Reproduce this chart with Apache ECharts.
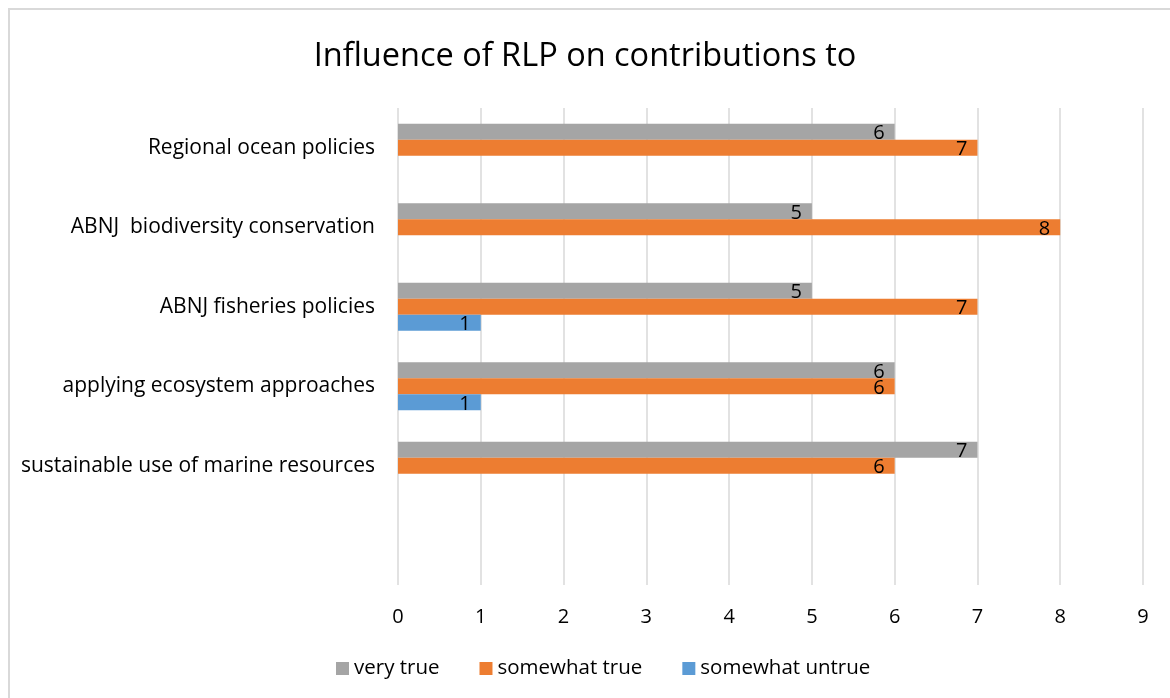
<!DOCTYPE html>
<html>
<head>
<meta charset="utf-8">
<script src="https://cdn.jsdelivr.net/npm/echarts@6/dist/echarts.min.js"></script>
<style>
  html, body { margin: 0; padding: 0; background: #fff; }
  #chart { width: 1170px; height: 698px; }
</style>
</head>
<body>
<div id="chart"></div>
<script>
  // categories bottom -> top, first one is an empty slot like the original
  let categories = ['', 'sustainable use of marine resources', 'applying ecosystem approaches',
                    'ABNJ fisheries policies', 'ABNJ  biodiversity conservation', 'Regional ocean policies'];
  let veryTrue       = [null, 7, 6, 5, 5, 6];
  let somewhatTrue   = [null, 6, 6, 7, 8, 7];
  let somewhatUntrue = [null, null, 1, 1, null, null];
  let xTicks = [0, 9, 1];  // min, max, interval

  let font = '"Open Sans", Lato, sans-serif';
  let chart = echarts.init(document.getElementById('chart'));

  let label = {
    show: true,
    position: 'insideRight',
    distance: 10,
    color: '#000',
    fontSize: 20,
    fontFamily: font,
    offset: [0, 2]
  };

  function barSeries(name, data, color) {
    return {
      name: name,
      type: 'bar',
      data: data,
      barWidth: 16,
      barGap: '0%',
      itemStyle: { color: color },
      label: label
    };
  }

  chart.setOption({
    animation: false,
    textStyle: { fontFamily: font },
    title: {
      text: 'Influence of RLP on contributions to',
      left: 'center',
      top: 35,
      textStyle: { fontSize: 32.5, fontWeight: 'normal', color: '#000', fontFamily: font }
    },
    graphic: [{
      type: 'rect',
      shape: { x: 9, y: 9, width: 1170, height: 700 },
      style: { fill: 'none', stroke: '#d9d9d9', lineWidth: 2 },
      silent: true
    }],
    legend: {
      bottom: 14,
      left: 331,
      icon: 'rect',
      itemWidth: 13,
      itemHeight: 13,
      itemGap: 40,
      data: ['very true', 'somewhat true', 'somewhat untrue'],
      textStyle: { fontSize: 20.5, color: '#000', fontFamily: font }
    },
    grid: { left: 398, right: 27, top: 108, bottom: 113 },
    xAxis: {
      type: 'value',
      min: xTicks[0],
      max: xTicks[1],
      interval: xTicks[2],
      axisLine: { show: false },
      axisTick: { show: false },
      splitLine: { show: true, lineStyle: { color: '#d9d9d9', width: 1.5 } },
      axisLabel: { fontSize: 20, color: '#000', margin: 22, fontFamily: font }
    },
    yAxis: {
      type: 'category',
      data: categories,
      axisLine: { show: false },
      axisTick: { show: false },
      axisLabel: { fontSize: 21, color: '#000', margin: 23, fontFamily: font }
    },
    series: [
      barSeries('very true', veryTrue, '#A5A5A5'),
      barSeries('somewhat true', somewhatTrue, '#ED7D31'),
      barSeries('somewhat untrue', somewhatUntrue, '#5B9BD5')
    ]
  });
</script>
</body>
</html>
